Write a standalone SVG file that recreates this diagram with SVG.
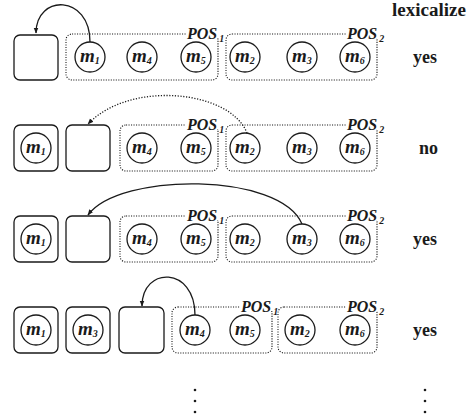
<svg xmlns="http://www.w3.org/2000/svg" width="473" height="419" viewBox="0 0 473 419">
<style>
.box{fill:none;stroke:#1a1a1a;stroke-width:1.3}
.grp{fill:none;stroke:#1a1a1a;stroke-width:1.1;stroke-dasharray:1.1 1.4}
.c{fill:#fff;stroke:#1a1a1a;stroke-width:1.3}
.bg{fill:#fff;stroke:none}
.arr{fill:none;stroke:#1a1a1a;stroke-width:1.3}
.dot{stroke-dasharray:1.2 1.6}
.d{fill:#1a1a1a}
text{font-family:"Liberation Serif","Times New Roman",serif;fill:#1a1a1a}
.lab{font-weight:bold;font-size:18px}
.pos{font-style:italic;font-weight:bold;font-size:16px}
.m{font-style:italic;font-weight:bold;font-size:19px}
.s{font-size:10px}
.ps{font-size:10px}
</style>
<defs>
<marker id="ah" viewBox="0 0 10 10" refX="9" refY="5" markerWidth="6" markerHeight="6" orient="auto" markerUnits="userSpaceOnUse">
<path d="M0,1 L10,5 L0,9 z" fill="#1a1a1a"/>
</marker>
</defs>

<text class="lab" x="392" y="16" textLength="74" lengthAdjust="spacingAndGlyphs">lexicalize</text>

<!-- Row 1 -->
<g id="row1">
<g id="r1-slot"><rect class="box" x="14" y="35" width="44" height="45" rx="6"/></g>
<g id="r1-pos1"><rect class="grp" x="66" y="34" width="152" height="46" rx="6"/></g>
<g id="r1-pos2"><rect class="grp" x="226" y="34" width="151" height="46" rx="6"/></g>
<rect class="bg" x="186" y="28" width="39" height="10"/>
<rect class="bg" x="346" y="28" width="40" height="10"/>
<text class="pos" x="187" y="39">POS<tspan class="ps" dx="2" dy="3">1</tspan></text>
<text class="pos" x="347" y="39">POS<tspan class="ps" dx="2" dy="3">2</tspan></text>
<g id="r1-m1"><circle class="c" cx="90" cy="57" r="15"/><text class="m" x="80" y="62">m<tspan class="s" dy="2">1</tspan></text></g>
<g id="r1-m4"><circle class="c" cx="142" cy="57" r="15"/><text class="m" x="132" y="62">m<tspan class="s" dy="2">4</tspan></text></g>
<g id="r1-m5"><circle class="c" cx="196" cy="57" r="15"/><text class="m" x="186" y="62">m<tspan class="s" dy="2">5</tspan></text></g>
<g id="r1-m2"><circle class="c" cx="245" cy="57" r="15"/><text class="m" x="235" y="62">m<tspan class="s" dy="2">2</tspan></text></g>
<g id="r1-m3"><circle class="c" cx="302" cy="57" r="15"/><text class="m" x="292" y="62">m<tspan class="s" dy="2">3</tspan></text></g>
<g id="r1-m6"><circle class="c" cx="355" cy="57" r="15"/><text class="m" x="345" y="62">m<tspan class="s" dy="2">6</tspan></text></g>
<text class="lab" x="413" y="63">yes</text>
</g>

<!-- Row 2 -->
<g id="row2">
<g id="r2-slot1"><rect class="box" x="14" y="125" width="44" height="46" rx="6"/></g>
<g id="r2-slot"><rect class="box" x="66" y="125" width="44" height="46" rx="6"/></g>
<g id="r2-pos1"><rect class="grp" x="120" y="125" width="98" height="46" rx="6"/></g>
<g id="r2-pos2"><rect class="grp" x="226" y="125" width="151" height="46" rx="6"/></g>
<rect class="bg" x="186" y="119" width="39" height="10"/>
<rect class="bg" x="346" y="119" width="40" height="10"/>
<text class="pos" x="187" y="130">POS<tspan class="ps" dx="2" dy="3">1</tspan></text>
<text class="pos" x="347" y="130">POS<tspan class="ps" dx="2" dy="3">2</tspan></text>
<g id="r2-m1"><circle class="c" cx="36" cy="148" r="15"/><text class="m" x="26" y="153">m<tspan class="s" dy="2">1</tspan></text></g>
<g id="r2-m4"><circle class="c" cx="142" cy="148" r="15"/><text class="m" x="132" y="153">m<tspan class="s" dy="2">4</tspan></text></g>
<g id="r2-m5"><circle class="c" cx="196" cy="148" r="15"/><text class="m" x="186" y="153">m<tspan class="s" dy="2">5</tspan></text></g>
<g id="r2-m2"><circle class="c" cx="245" cy="148" r="15"/><text class="m" x="235" y="153">m<tspan class="s" dy="2">2</tspan></text></g>
<g id="r2-m3"><circle class="c" cx="302" cy="148" r="15"/><text class="m" x="292" y="153">m<tspan class="s" dy="2">3</tspan></text></g>
<g id="r2-m6"><circle class="c" cx="355" cy="148" r="15"/><text class="m" x="345" y="153">m<tspan class="s" dy="2">6</tspan></text></g>
<text class="lab" x="419" y="154">no</text>
</g>

<!-- Row 3 -->
<g id="row3">
<g id="r3-slot1"><rect class="box" x="14" y="216" width="44" height="46" rx="6"/></g>
<g id="r3-slot"><rect class="box" x="66" y="216" width="44" height="46" rx="6"/></g>
<g id="r3-pos1"><rect class="grp" x="120" y="216" width="98" height="46" rx="6"/></g>
<g id="r3-pos2"><rect class="grp" x="226" y="216" width="151" height="46" rx="6"/></g>
<rect class="bg" x="186" y="210" width="39" height="10"/>
<rect class="bg" x="346" y="210" width="40" height="10"/>
<text class="pos" x="187" y="221">POS<tspan class="ps" dx="2" dy="3">1</tspan></text>
<text class="pos" x="347" y="221">POS<tspan class="ps" dx="2" dy="3">2</tspan></text>
<g id="r3-m1"><circle class="c" cx="36" cy="239" r="15"/><text class="m" x="26" y="244">m<tspan class="s" dy="2">1</tspan></text></g>
<g id="r3-m4"><circle class="c" cx="142" cy="239" r="15"/><text class="m" x="132" y="244">m<tspan class="s" dy="2">4</tspan></text></g>
<g id="r3-m5"><circle class="c" cx="196" cy="239" r="15"/><text class="m" x="186" y="244">m<tspan class="s" dy="2">5</tspan></text></g>
<g id="r3-m2"><circle class="c" cx="245" cy="239" r="15"/><text class="m" x="235" y="244">m<tspan class="s" dy="2">2</tspan></text></g>
<g id="r3-m3"><circle class="c" cx="302" cy="239" r="15"/><text class="m" x="292" y="244">m<tspan class="s" dy="2">3</tspan></text></g>
<g id="r3-m6"><circle class="c" cx="355" cy="239" r="15"/><text class="m" x="345" y="244">m<tspan class="s" dy="2">6</tspan></text></g>
<text class="lab" x="413" y="245">yes</text>
</g>

<!-- Row 4 -->
<g id="row4">
<g id="r4-slot1"><rect class="box" x="14" y="307" width="44" height="46" rx="6"/></g>
<g id="r4-slot2"><rect class="box" x="66" y="307" width="44" height="46" rx="6"/></g>
<g id="r4-slot"><rect class="box" x="119" y="307" width="45" height="46" rx="6"/></g>
<g id="r4-pos1"><rect class="grp" x="172" y="307" width="100" height="46" rx="6"/></g>
<g id="r4-pos2"><rect class="grp" x="278" y="307" width="99" height="46" rx="6"/></g>
<rect class="bg" x="240" y="301" width="38" height="10"/>
<rect class="bg" x="346" y="301" width="40" height="10"/>
<text class="pos" x="241" y="312">POS<tspan class="ps" dx="2" dy="3">1</tspan></text>
<text class="pos" x="347" y="312">POS<tspan class="ps" dx="2" dy="3">2</tspan></text>
<g id="r4-m1"><circle class="c" cx="36" cy="330" r="15"/><text class="m" x="26" y="335">m<tspan class="s" dy="2">1</tspan></text></g>
<g id="r4-m3"><circle class="c" cx="88" cy="330" r="15"/><text class="m" x="78" y="335">m<tspan class="s" dy="2">3</tspan></text></g>
<g id="r4-m4"><circle class="c" cx="195" cy="330" r="15"/><text class="m" x="185" y="335">m<tspan class="s" dy="2">4</tspan></text></g>
<g id="r4-m5"><circle class="c" cx="245" cy="330" r="15"/><text class="m" x="235" y="335">m<tspan class="s" dy="2">5</tspan></text></g>
<g id="r4-m2"><circle class="c" cx="300" cy="330" r="15"/><text class="m" x="290" y="335">m<tspan class="s" dy="2">2</tspan></text></g>
<g id="r4-m6"><circle class="c" cx="355" cy="330" r="15"/><text class="m" x="345" y="335">m<tspan class="s" dy="2">6</tspan></text></g>
<text class="lab" x="413" y="336">yes</text>
</g>

<g id="connectors">
<path class="arr" d="M90,42 C90,-6 36,-6 36,33" marker-end="url(#ah)"/>
<path class="arr dot" d="M247,133 C230,90 130,80 88,124" marker-end="url(#ah)"/>
<path class="arr" d="M302,224 C280,172 120,172 88,215" marker-end="url(#ah)"/>
<path class="arr" d="M195,315 C195,266 142,266 142,306" marker-end="url(#ah)"/>
</g>

<g id="ellipsis">
<circle class="d" cx="195" cy="390" r="1.3"/><circle class="d" cx="195" cy="401" r="1.3"/><circle class="d" cx="195" cy="412" r="1.3"/>
<circle class="d" cx="425" cy="390" r="1.3"/><circle class="d" cx="425" cy="401" r="1.3"/><circle class="d" cx="425" cy="412" r="1.3"/>
</g>
</svg>
